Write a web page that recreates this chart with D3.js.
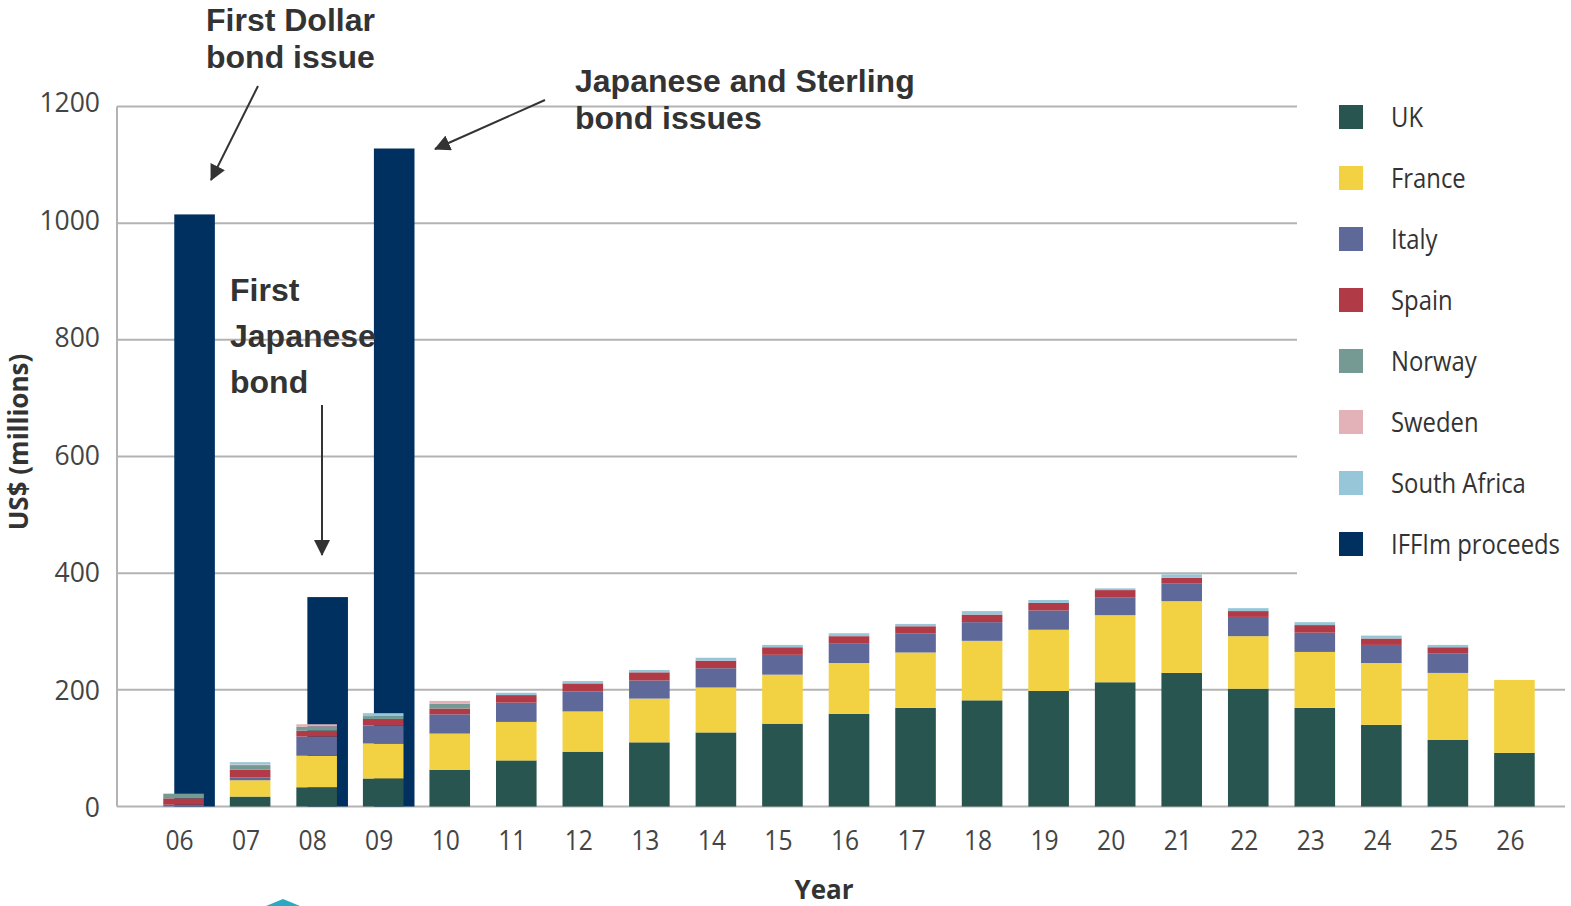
<!DOCTYPE html>
<html><head><meta charset="utf-8">
<script src="https://cdn.jsdelivr.net/npm/d3@7"></script>
<style>body{margin:0;background:#fff} svg{display:block}</style>
</head><body><svg id="c" width="1571" height="906"></svg>
<script>
const years = ["06","07","08","09","10","11","12","13","14","15","16","17","18","19","20","21","22","23","24","25","26"];
const uk          = [0, 17, 33, 48, 63, 79, 94, 110, 127, 142, 159, 169, 182, 198, 213, 229, 202, 169, 140, 114, 92];
const france      = [0, 28, 54, 60, 62, 66, 69, 75, 77, 84, 87, 95, 102, 105, 115, 123, 90, 96, 106, 115, 125];
const italy       = [3, 5, 33, 31, 33, 33, 34, 31, 33, 34, 33, 33, 32, 33, 30, 30, 33, 33, 31, 33, 0];
const spain       = [11, 13, 10, 11, 10, 13, 14, 14, 13, 13, 13, 12, 13, 13, 13, 10, 10, 13, 11, 11, 0];
const norway      = [8, 8, 7, 5, 8, 0, 0, 0, 0, 0, 0, 0, 0, 0, 0, 0, 0, 0, 0, 0, 0];
const sweden      = [0, 1, 4, 0, 5, 0, 0, 0, 0, 0, 0, 0, 0, 0, 0, 0, 0, 0, 0, 0, 0];
const southAfrica = [0, 4, 0, 5, 0, 4, 4, 4, 5, 4, 5, 4, 6, 5, 3, 6, 5, 5, 5, 4, 0];
const iffim       = [1015, null, 359, 1128, null, null, null, null, null, null, null, null, null, null, null, null, null, null, null, null, null];
const donorNames  = ["UK","France","Italy","Spain","Norway","Sweden","South Africa"];
const legendNames = ["UK","France","Italy","Spain","Norway","Sweden","South Africa","IFFIm proceeds"];
const legendColors = ["#28554f","#f2d242","#5e6899","#b03a45","#759a94","#e3b1b8","#97c6d8","#00305f"];
const yTicks = [0,200,400,600,800,1000,1200];

const svg = d3.select("#c");
const x = d3.scaleBand().domain(years).range([130, 1568]).paddingInner(0.39).paddingOuter(0.5);
const y = d3.scaleLinear().domain([0,1200]).range([806.5, 106.5]);
const yLab = d3.scaleLinear().domain([0,1200]).range([808, 103]);
const color = d3.scaleOrdinal().domain(legendNames).range(legendColors);

// gridlines
svg.append("g").selectAll("line").data(yTicks).join("line")
  .attr("x1", 117).attr("x2", d => d <= 200 ? 1565 : 1297)
  .attr("y1", d => y(d)).attr("y2", d => y(d))
  .attr("stroke", "#b3b3b3").attr("stroke-width", 2);
svg.append("line").attr("x1",117).attr("x2",117).attr("y1",y(1200)).attr("y2",y(0))
  .attr("stroke","#b3b3b3").attr("stroke-width",2);

// y tick labels
svg.append("g").selectAll("text").data(yTicks).join("text")
  .attr("x", 100).attr("y", d => yLab(d)).attr("dy","0.35em")
  .attr("text-anchor","end").attr("font-family","Open Sans").attr("font-size",26.5)
  .attr("fill","#444").text(d => d);

// IFFIm bars
const navyData = years.map((yr,i) => ({yr, v: iffim[i]})).filter(d => d.v != null);
svg.append("g").selectAll("rect").data(navyData).join("rect")
  .attr("x", d => x(d.yr) + 11).attr("width", x.bandwidth())
  .attr("y", d => y(d.v)).attr("height", d => y(0) - y(d.v))
  .attr("fill", color("IFFIm proceeds"));

// stacked donor bars
const table = years.map((yr,i) => ({yr, "UK": uk[i], "France": france[i], "Italy": italy[i], "Spain": spain[i],
  "Norway": norway[i], "Sweden": sweden[i], "South Africa": southAfrica[i]}));
const stacked = d3.stack().keys(donorNames)(table);
svg.append("g").selectAll("g").data(stacked).join("g")
  .attr("fill", d => color(d.key))
  .selectAll("rect").data(d => d).join("rect")
  .attr("x", d => x(d.data.yr)).attr("width", x.bandwidth())
  .attr("y", d => y(d[1])).attr("height", d => y(d[0]) - y(d[1]));

// x tick labels
svg.append("g").selectAll("text").data(years).join("text")
  .attr("transform", d => `translate(${x(d) + x.bandwidth()/2 - 4},850) scale(0.88,1)`)
  .attr("text-anchor","middle").attr("font-family","Open Sans").attr("font-size",28)
  .attr("fill","#444").text(d => d);

// axis titles
svg.append("text").attr("x", 824).attr("y", 899).attr("text-anchor","middle")
  .attr("font-family","Open Sans").attr("font-weight","bold").attr("font-size",26)
  .attr("fill","#333").text("Year");
svg.append("text").attr("transform","translate(28,442) rotate(-90)").attr("text-anchor","middle")
  .attr("font-family","Open Sans").attr("font-weight","bold").attr("font-size",26)
  .attr("fill","#333").text("US$ (millions)");

// legend
const lg = svg.append("g").selectAll("g").data(legendNames).join("g")
  .attr("transform", (d,i) => `translate(1339,${117 + i*61})`);
lg.append("rect").attr("x",0).attr("y",-12).attr("width",24).attr("height",24).attr("fill", d => color(d));
const lt = lg.append("text").attr("font-family","Open Sans").attr("font-size",28).attr("fill","#333")
  .attr("dy","0.35em").text(d => d);
const lastW = lt.nodes()[lt.nodes().length-1].getComputedTextLength();
const k = 169 / lastW;
lt.attr("transform", `translate(52,0) scale(${k},1)`);

// annotations
const defs = svg.append("defs");
defs.append("marker").attr("id","ah").attr("viewBox","0 0 16 16").attr("refX",15).attr("refY",8)
  .attr("markerWidth",16).attr("markerHeight",16).attr("markerUnits","userSpaceOnUse").attr("orient","auto")
  .append("path").attr("d","M0,0 L16,8 L0,16 Z").attr("fill","#333");
const annTexts = [
  {x:206, y:31, lines:["First Dollar","bond issue"], lh:37},
  {x:575, y:92, lines:["Japanese and Sterling","bond issues"], lh:37},
  {x:230, y:301, lines:["First","Japanese","bond"], lh:46}
];
annTexts.forEach(a => {
  const t = svg.append("text").attr("font-family","Liberation Sans, Arial, sans-serif").attr("font-weight","bold")
    .attr("font-size",32).attr("fill","#333");
  a.lines.forEach((l,i) => t.append("tspan").attr("x",a.x).attr("y",a.y + i*a.lh).text(l));
});
const arrows = [[258,86,211,180],[545,100,435,149],[322,405,322,555]];
svg.append("g").selectAll("line").data(arrows).join("line")
  .attr("x1",d=>d[0]).attr("y1",d=>d[1]).attr("x2",d=>d[2]).attr("y2",d=>d[3])
  .attr("stroke","#333").attr("stroke-width",2).attr("marker-end","url(#ah)");

// small cyan fragment at bottom edge
svg.append("path").attr("d","M266,906 L283,899 L300,906 Z").attr("fill","#2aa8c4");
</script>
</body></html>
